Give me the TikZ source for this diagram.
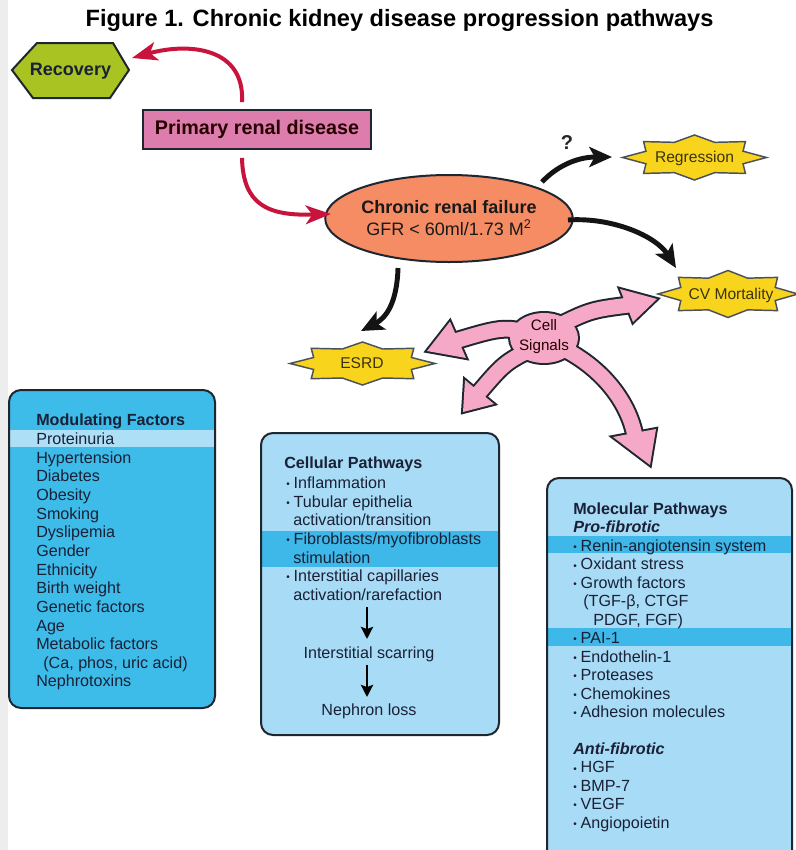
\documentclass[tikz,border=0pt]{standalone}
\usepackage{fontspec}
\usepackage{graphicx}
\setmainfont{Liberation Sans}
\usetikzlibrary{arrows.meta,shapes.geometric,calc}
\definecolor{edge}{HTML}{1E2630}
\definecolor{redarr}{HTML}{C8143C}
\definecolor{recgreen}{HTML}{A9C322}
\definecolor{pinkbox}{HTML}{DD7DAE}
\definecolor{salmon}{HTML}{F58C63}
\definecolor{staryel}{HTML}{F8D41C}
\definecolor{startxt}{HTML}{3A3410}
\definecolor{cellpink}{HTML}{F5A9C6}
\definecolor{modblue}{HTML}{3DBBE9}
\definecolor{modband}{HTML}{ADE0F6}
\definecolor{lightblue}{HTML}{A8DBF5}
\definecolor{darkband}{HTML}{3DB8E8}
\definecolor{txt}{HTML}{1A2036}
\definecolor{stripgray}{HTML}{EDEDED}
\newcommand\bul{\makebox[5.6pt][l]{\raisebox{0.6pt}{\scalebox{0.62}{\textbullet}}}}
\newcommand\cont{\hspace*{5.3pt}}
\newcommand\burst[4]{\filldraw[burststyle] plot[samples at={0,22.5,...,337.5},variable=\bang] ({#1+#3*(1-0.27*mod(round(\bang/22.5),2))*cos(\bang)},{#2+#4*(1-0.27*mod(round(\bang/22.5),2))*sin(\bang)}) -- cycle;}
\begin{document}
\begin{tikzpicture}[x=0.75pt,y=-0.75pt,
  burststyle/.style={fill=staryel,draw=edge!80,line width=1.1pt,line join=miter},
  startext/.style={font=\fontsize{11.7}{14}\selectfont,text=startxt,inner sep=0pt},
  redarrow/.style={draw=redarr,line width=3pt,-{Stealth[length=19pt,width=14pt,inset=5pt]}},
  blkarrow/.style={draw=black!92,line width=3.7pt,-{Stealth[length=17pt,width=15pt,inset=4pt]}},
  smallarrow/.style={draw=black,line width=2.2pt,-{Stealth[length=9pt,width=9pt,inset=1.5pt]}},
  boxedge/.style={draw=edge,line width=1.5pt,rounded corners=9pt},
  boxtxt/.style={font=\fontsize{12.1}{14}\selectfont,text=txt,anchor=base west,inner sep=0pt},
  boxhead/.style={boxtxt,font=\fontsize{12.1}{14}\selectfont\bfseries},
  boxsub/.style={boxtxt,font=\fontsize{12.1}{14}\selectfont\bfseries\itshape}]
\clip (0,0) rectangle (796,850);
\fill[white] (0,0) rectangle (796,850);
\fill[stripgray] (0,0) rectangle (8,850);

% title
\node[font=\fontsize{17.7}{20}\selectfont\bfseries,anchor=base,inner sep=0pt] (title) at (399.5,26) {Figure 1. Chronic kidney disease progression pathways};

% recovery
\filldraw[fill=recgreen,draw=edge,line width=1.5pt,line join=miter] (12,70)--(37,43)--(113,43)--(129,70)--(110,98)--(33,98)--cycle;
\node[font=\fontsize{13.5}{16}\selectfont\bfseries,text=txt] (rec) at (70.5,71) {Recovery};

% primary renal disease
\node[draw=edge,line width=1.5pt,fill=pinkbox,minimum width=171pt,minimum height=29pt,inner sep=0pt,font=\fontsize{14.8}{17}\selectfont\bfseries,text=black!85!red] (prim) at (257,129.5) {Primary renal disease};

% chronic renal failure
\node[ellipse,draw=edge,line width=1.5pt,fill=salmon,minimum width=166.5pt,minimum height=65.25pt,inner sep=0pt,align=center,font=\fontsize{13.5}{16.5}\selectfont,text=black!90] (crf) at (449,218.5) {{\bfseries Chronic renal failure}\\GFR < 60ml/1.73 M\textsuperscript{2}};

% red arrows
\coordinate (recin) at (132,58);
\coordinate (crfin) at (331,214);
\draw[redarrow] ($(prim.north west)+(100,-7)$) .. controls (245,48) and (190,42) .. (recin);
\draw[redarrow] ($(prim.south west)+(100,8)$) .. controls (243,205) and (268,216) .. (crfin);

% stars
\burst{694.5}{157.5}{72}{22.5}
\node[startext] (reg) at (694.5,158) {Regression};
\burst{728}{294}{70}{23.5}
\node[startext] (cvm) at (731,295) {CV Mortality};
\burst{362.5}{363.5}{72.5}{21.5}
\node[startext] (esrd) at (362,363.5) {ESRD};

% black arrows
\coordinate (rg1) at (542,182);
\coordinate (rg2) at (612,157);
\coordinate (cv1) at (568,220);
\coordinate (cv2) at (676,268);
\coordinate (es1) at (398,268);
\coordinate (es2) at (361,331);
\draw[blkarrow] (rg1) .. controls (556,167) and (576,157) .. (rg2);
\draw[blkarrow] (cv1) .. controls (612,217) and (656,236) .. (cv2);
\draw[blkarrow] (es1) .. controls (397,303) and (386,318) .. (es2);
\node[font=\fontsize{15}{17}\selectfont\bfseries,text=black!85] (q) at (567,143) {?};

% cell signals: outline pass
\begin{scope}[draw=edge,line cap=butt]
\draw[line width=14.2pt] (544,337) .. controls (505,326) .. (455,341);
\draw[line width=14.2pt] (540,345) .. controls (505,362) .. (477,395);
\draw[line width=14.2pt] (550,330) .. controls (590,310) .. (629,305);
\draw[line width=14.2pt] (556,345) .. controls (600,365) and (628,400) .. (635,436);
\filldraw[line width=3pt,line join=miter,fill=edge] (427,351)--(450,321.5)--(466,358)--cycle;
\filldraw[line width=3pt,line join=miter,fill=edge] (463,412)--(465,380)--(494,404)--cycle;
\filldraw[line width=3pt,line join=miter,fill=edge] (657,299)--(620,289)--(633,322)--cycle;
\filldraw[line width=3pt,line join=miter,fill=edge] (650,465)--(613,437)--(656,429)--cycle;
\filldraw[line width=3pt,fill=edge] (544,338) ellipse [x radius=34,y radius=25];
\end{scope}
% cell signals: fill pass
\begin{scope}[draw=cellpink,line cap=butt]
\draw[line width=11.2pt] (544,337) .. controls (505,326) .. (455,341);
\draw[line width=11.2pt] (540,345) .. controls (505,362) .. (477,395);
\draw[line width=11.2pt] (550,330) .. controls (590,310) .. (629,305);
\draw[line width=11.2pt] (556,345) .. controls (600,365) and (628,400) .. (635,436);
\fill[cellpink] (427,351)--(450,321.5)--(466,358)--cycle;
\fill[cellpink] (463,412)--(465,380)--(494,404)--cycle;
\fill[cellpink] (657,299)--(620,289)--(633,322)--cycle;
\fill[cellpink] (650,465)--(613,437)--(656,429)--cycle;
\fill[cellpink] (544,338) ellipse [x radius=34,y radius=25];
\end{scope}
\node[align=center,font=\fontsize{11.4}{15}\selectfont,text=black!75!red!60!black,inner sep=0pt] (cs) at (544,337) {Cell\\Signals};

% modulating factors box
\fill[modblue,rounded corners=9pt] (9,390) rectangle (215,708);
\begin{scope}
\clip[rounded corners=9pt] (9,390) rectangle (215,708);
\fill[modband] (9,430) rectangle (215,447);
\end{scope}
\draw[boxedge] (9,390) rectangle (215,708);
\node[boxhead] (mfh) at (36,425.5) {Modulating Factors};
\foreach \t [count=\i] in {Proteinuria, Hypertension, Diabetes, Obesity, Smoking, Dyslipemia, Gender, Ethnicity, Birth weight, Genetic factors, Age, Metabolic factors, {\hspace*{5.3pt}(Ca, phos, uric acid)}, Nephrotoxins}
  \node[boxtxt] (mf\i) at (36,{444.5+18.65*(\i-1)}) {\t};

% cellular pathways box
\fill[lightblue,rounded corners=9pt] (261,433) rectangle (499,735);
\fill[darkband] (261,531) rectangle (499,567);
\draw[boxedge] (261,433) rectangle (499,735);
\node[boxhead] (cph) at (284,468.5) {Cellular Pathways};
\foreach \t [count=\i] in {\bul Inflammation, \bul Tubular epithelia, \cont activation/transition, \bul Fibroblasts/myofibroblasts, \cont stimulation, \bul Interstitial capillaries, \cont activation/rarefaction}
  \node[boxtxt] (cp\i) at (286,{488.5+18.65*(\i-1)}) {\t};
\node[boxtxt,anchor=base] (scar) at (369,658.5) {Interstitial scarring};
\node[boxtxt,anchor=base] (nloss) at (369,715.5) {Nephron loss};
\coordinate (ar1s) at (367,607);
\coordinate (ar1e) at (367,639);
\coordinate (ar2s) at (367,665);
\coordinate (ar2e) at (367,697);
\draw[smallarrow] (ar1s) -- (ar1e);
\draw[smallarrow] (ar2s) -- (ar2e);

% molecular pathways box
\fill[lightblue,rounded corners=9pt] (547,478) rectangle (792,900);
\fill[darkband] (547,536) rectangle (792,553);
\fill[darkband] (547,628) rectangle (792,646);
\draw[boxedge] (547,478) rectangle (792,900);
\node[boxhead] (mph) at (573,514.5) {Molecular Pathways};
\node[boxsub] (pro) at (573,532.95) {Pro-fibrotic};
\foreach \t [count=\i] in {\bul Renin-angiotensin system, \bul Oxidant stress, \bul Growth factors, {\hspace*{7.5pt}(TGF-β, CTGF}, {\hspace*{15pt}PDGF, FGF)}, \bul PAI-1, \bul Endothelin-1, \bul Proteases, \bul Chemokines, \bul Adhesion molecules}
  \node[boxtxt] (mp\i) at (573,{514.5+18.45*(\i+1)}) {\t};
\node[boxsub] (anti) at (573,{514.5+18.45*13}) {Anti-fibrotic};
\foreach \t [count=\i] in {\bul HGF, \bul BMP-7, \bul VEGF, \bul Angiopoietin}
  \node[boxtxt] (ma\i) at (573,{514.5+18.45*(\i+13)}) {\t};
\end{tikzpicture}
\end{document}
